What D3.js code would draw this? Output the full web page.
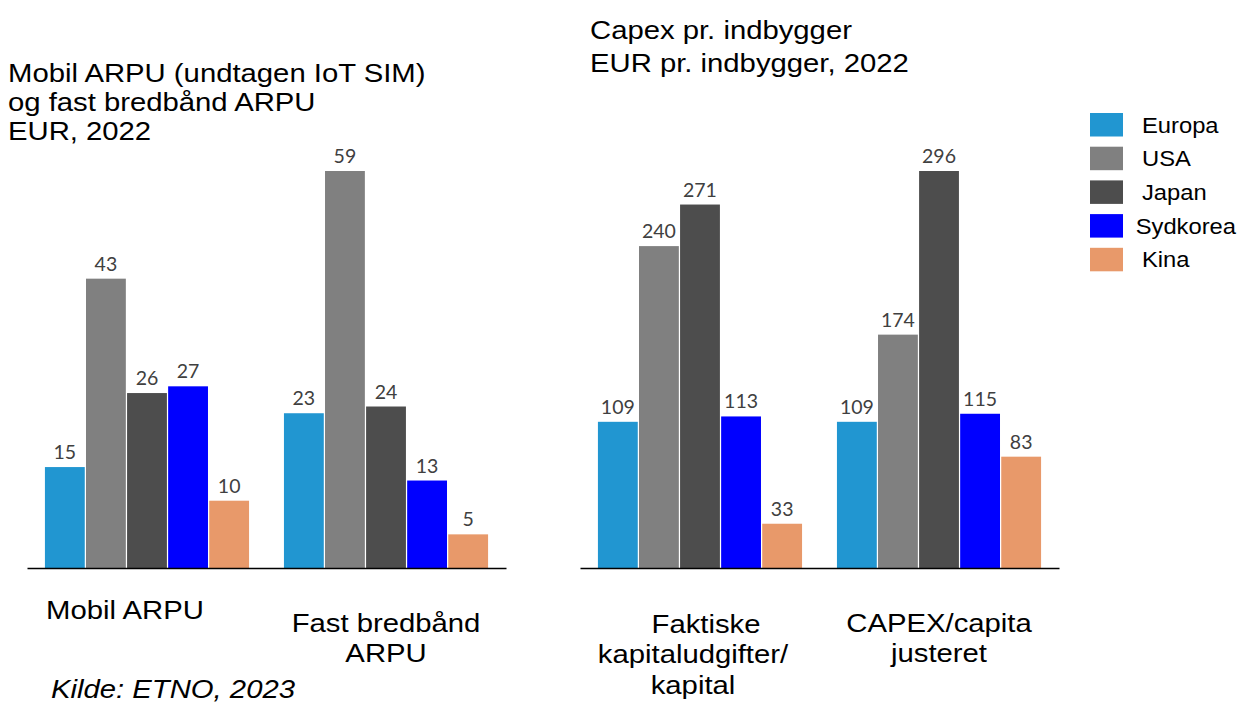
<!DOCTYPE html>
<html>
<head>
<meta charset="utf-8">
<script src="https://cdn.jsdelivr.net/npm/d3@7"></script>
<style>
  html, body { margin: 0; padding: 0; background: #ffffff; }
  svg { display: block; }
</style>
</head>
<body>
<svg id="chart" width="1241" height="707"></svg>
<script>
// Series (regions) shared by both panels
const series = ["Europa", "USA", "Japan", "Sydkorea", "Kina"];
const seriesColors = ["#2196d1", "#808080", "#4d4d4d", "#0000ff", "#e8996a"];

// Left panel: ARPU, EUR 2022
const arpuCategories = ["Mobil ARPU", "Fast bredbånd ARPU"];
const arpuLabelLines = [["Mobil ARPU"], ["Fast bredbånd", "ARPU"]];
const arpuMobil = [15, 43, 26, 27, 10];
const arpuFast = [23, 59, 24, 13, 5];
const arpuTitle = ["Mobil ARPU (undtagen IoT SIM)", "og fast bredbånd ARPU", "EUR, 2022"];

// Right panel: capex per inhabitant, EUR 2022
const capexCategories = ["Faktiske kapitaludgifter/kapital", "CAPEX/capita justeret"];
const capexLabelLines = [["Faktiske", "kapitaludgifter/", "kapital"], ["CAPEX/capita", "justeret"]];
const capexActual = [109, 240, 271, 113, 33];
const capexAdjusted = [109, 174, 296, 115, 83];
const capexTitle = ["Capex pr. indbygger", "EUR pr. indbygger, 2022"];

const sourceNote = "Kilde: ETNO, 2023";

const svg = d3.select("#chart");
const SANS = "'Liberation Sans', Arial, sans-serif";
const WIDE = 1.105;          // horizontal stretch of the slide text
const WIDE_LEGEND = 1.08;
const baseY = 568, topY = 171;

const color = d3.scaleOrdinal().domain(series).range(seriesColors);

// Stretched text helper: anchor point (x, y), lines stacked by lineH
function stretchedText(x, y, lines, opts) {
  const k = opts.wide || WIDE;
  const g = svg.append("g").attr("transform", `translate(${x},${y}) scale(${k},1)`);
  const t = g.append("text")
    .attr("font-family", SANS)
    .attr("font-size", opts.size)
    .attr("font-style", opts.italic ? "italic" : "normal")
    .attr("fill", "#000")
    .attr("text-anchor", opts.anchor || "start");
  lines.forEach((ln, i) => {
    const dx = (opts.lineShift && opts.lineShift[ln]) ? opts.lineShift[ln] / k : 0;
    t.append("tspan").attr("x", dx).attr("y", i * (opts.lineH || 0)).text(ln);
  });
  return g;
}

// Tweaks to where a category caption sits relative to its group
const captionShift = {
  "Mobil ARPU": { dx: -22, dy: -13 },
  "Faktiske kapitaludgifter/kapital": { dx: -7, dy: 1 }
};
const captionLineShift = { "Faktiske": 13 };

function panel(cfg) {
  const x0 = d3.scaleBand().domain(cfg.categories).range(cfg.range)
    .paddingInner(0.146).paddingOuter(0.075);
  const x1 = d3.scaleBand().domain(series).range([0, x0.bandwidth()]).paddingInner(0.03);
  const y = d3.scaleLinear().domain([0, cfg.max]).range([baseY, topY]);

  const rows = cfg.categories.map((c, i) => ({
    cat: c,
    vals: series.map((s, j) => ({ s, v: cfg.values[i][j] }))
  }));

  const groups = svg.append("g").selectAll("g").data(rows).join("g")
    .attr("transform", d => `translate(${x0(d.cat)},0)`);

  groups.selectAll("rect").data(d => d.vals).join("rect")
    .attr("x", d => x1(d.s))
    .attr("width", x1.bandwidth())
    .attr("y", d => y(d.v))
    .attr("height", d => baseY - y(d.v))
    .attr("fill", d => color(d.s));

  groups.selectAll("text.val").data(d => d.vals).join("text")
    .attr("class", "val")
    .attr("x", d => x1(d.s) + x1.bandwidth() / 2)
    .attr("y", d => y(d.v) - 8)
    .attr("text-anchor", "middle")
    .attr("font-family", "Lato, 'Open Sans', sans-serif")
    .attr("font-size", 19.5)
    .attr("fill", "#404040")
    .text(d => d.v);

  // Baseline axis (no ticks)
  const axis = svg.append("g").attr("transform", `translate(0,${baseY})`)
    .call(d3.axisBottom(x0).tickSize(0).tickSizeOuter(0).tickFormat(""));
  axis.select(".domain").attr("stroke", "#000").attr("stroke-width", 1.5);

  // Category captions
  cfg.categories.forEach((c, i) => {
    const sh = captionShift[c] || { dx: 0, dy: 0 };
    const cx = x0(c) + x0.bandwidth() / 2 + sh.dx;
    stretchedText(cx, 632 + sh.dy, cfg.labelLines[i],
      { size: 26.5, anchor: "middle", lineH: 30.5, lineShift: captionLineShift });
  });
}

panel({
  categories: arpuCategories, labelLines: arpuLabelLines,
  values: [arpuMobil, arpuFast], max: 59, range: [27, 506]
});
panel({
  categories: capexCategories, labelLines: capexLabelLines,
  values: [capexActual, capexAdjusted], max: 296, range: [580, 1059]
});

// Titles
stretchedText(8, 82, arpuTitle, { size: 26.5, lineH: 29 });
stretchedText(590, 39, capexTitle, { size: 26.5, lineH: 33.5 });

// Source note
stretchedText(51, 698, [sourceNote], { size: 26.5, italic: true });

// Legend
series.forEach((s, i) => {
  const top = 113 + i * 33.7;
  svg.append("rect")
    .attr("x", 1090).attr("y", top)
    .attr("width", 33).attr("height", 23.5)
    .attr("fill", color(s));
  const g = stretchedText(1142, top + 19.5, [s], { size: 22, wide: WIDE_LEGEND });
  const w = g.select("text").node().getComputedTextLength() * WIDE_LEGEND;
  const x = Math.min(1142, 1236 - w);
  g.attr("transform", `translate(${x},${top + 19.5}) scale(${WIDE_LEGEND},1)`);
});
</script>
</body>
</html>
